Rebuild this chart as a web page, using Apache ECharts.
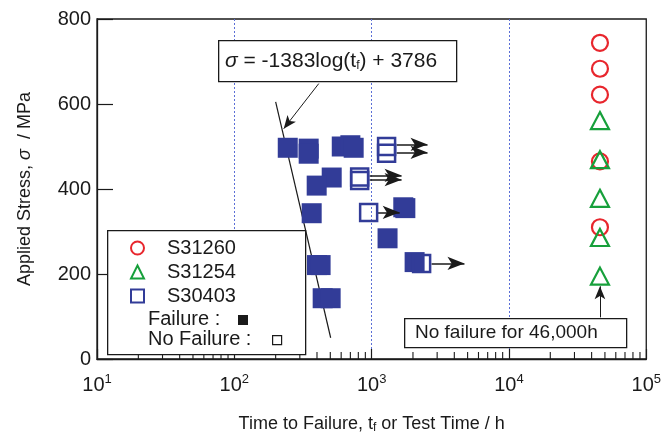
<!DOCTYPE html>
<html>
<head>
<meta charset="utf-8">
<script src="https://cdn.jsdelivr.net/npm/echarts@6/dist/echarts.min.js"></script>
<style>
html,body{margin:0;padding:0;background:#fff;}
#c{width:664px;height:439px;}
</style>
</head>
<body>
<div id="c"></div>
<script>
// ---- data ----
const xTicks = [10, 100, 1000, 10000, 100000];
const yTicks = [0, 200, 400, 600, 800];
const minorTickValues = [20,30,40,50,60,70,80,90,200,300,400,500,600,700,800,900,2000,3000,4000,5000,6000,7000,8000,9000,20000,30000,40000,50000,60000,70000,80000,90000];

const s31260Time = [46000, 46000, 46000, 46000, 46000];
const s31260Stress = [744, 683, 622, 465, 310];

const s31254Time = [46000, 46000, 46000, 46000, 46000];
const s31254Stress = [561, 469, 378, 286, 195];

const failTime = [245, 348, 348, 606, 700, 740, 512, 398, 366, 1700, 1760, 1306, 400, 425, 440, 503, 2056];
const failStress = [497, 495, 483, 500, 503, 497, 427, 408, 343, 357, 355, 284, 221, 221, 143, 143, 228];

const noFailTime = [1285, 1285, 818, 818, 951, 2312];
const noFailStress = [500, 484, 428, 420, 345, 225];

const arrowStartTime = [1520, 1520, 966, 966, 1107, 2731];
const arrowEndTime = [2553, 2553, 1652, 1652, 1600, 4742];
const arrowStress = [505, 486, 432, 422, 345, 225];

const fitTime = [200, 503];
const fitStress = [605, 50];

const leaderFrom = [412, 648];
const leaderTo = [229, 542];
const upArrowFrom = [46000, 98];
const upArrowTo = [46000, 171];

const eqText = '{i|σ} = -1383log(t{s|f}) + 3786';
const noteText = 'No failure for 46,000h';
// --------------------------------------

const zip = (a, b) => a.map((v, i) => [v, b[i]]);
const RED = '#e8262d', GREEN = '#17a03b', BLUE = '#323c98', INK = '#1a1a1a';
const FONT = 'Liberation Sans, Arial, Helvetica, sans-serif';

const arrowLines = arrowStress.map((y, i) => [
  {coord: [arrowStartTime[i], y]},
  {coord: [arrowEndTime[i], y]}
]);

const chart = echarts.init(document.getElementById('c'), null, {renderer: 'canvas'});
chart.setOption({
  animation: false,
  textStyle: {fontFamily: FONT},
  grid: {left: 97, right: 17, top: 19, bottom: 79, show: true, borderColor: INK, borderWidth: 1.3, backgroundColor: 'transparent'},
  xAxis: {
    type: 'log', logBase: 10, min: xTicks[0], max: xTicks[xTicks.length - 1],
    axisLine: {show: true, lineStyle: {color: INK, width: 1.3}},
    axisTick: {show: true, inside: true, length: 10, lineStyle: {color: INK, width: 1.2}},
    splitLine: {show: true, showMinLine: false, showMaxLine: false, lineStyle: {color: '#5b6fd6', width: 1, type: [2, 2]}},
    axisLabel: {
      color: INK, fontSize: 20, fontFamily: FONT, margin: 14, lineHeight: 24,
      formatter: v => '10{s|' + Math.round(Math.log10(v)) + '}',
      rich: {s: {fontSize: 13, lineHeight: 13, verticalAlign: 'top', fontFamily: FONT, color: INK}}
    },
    name: 'Time to Failure, t{s|f} or Test Time / h',
    nameLocation: 'middle', nameGap: 55,
    nameTextStyle: {color: INK, fontSize: 18, fontFamily: FONT, lineHeight: 20,
      rich: {s: {fontSize: 12, fontFamily: FONT, color: INK, lineHeight: 12, verticalAlign: 'bottom', padding: [10, 0, 0, 0]}}}
  },
  yAxis: {
    type: 'value', min: yTicks[0], max: yTicks[yTicks.length - 1], interval: 200,
    axisLine: {show: true, lineStyle: {color: INK, width: 1.3}},
    axisTick: {show: true, inside: true, length: 16, lineStyle: {color: INK, width: 1.2}},
    splitLine: {show: false},
    axisLabel: {color: INK, fontSize: 20, fontFamily: FONT, margin: 6},
    name: 'Applied Stress, {i|σ}  / MPa',
    nameLocation: 'middle', nameGap: 63,
    nameTextStyle: {color: INK, fontSize: 18, fontFamily: FONT,
      rich: {i: {fontStyle: 'italic', fontSize: 18, fontFamily: FONT, color: INK}}}
  },
  legend: {
    orient: 'vertical', left: 125, top: 233, itemGap: 4, z: 20,
    itemWidth: 13, itemHeight: 13,
    textStyle: {color: INK, fontSize: 20, fontFamily: FONT, lineHeight: 20, padding: [0, 0, 0, 18]},
    data: [
      {name: 'S31260', icon: 'emptyCircle', itemStyle: {color: RED, borderColor: RED, borderWidth: 2, opacity: 1}},
      {name: 'S31254', icon: 'emptyTriangle', itemStyle: {color: GREEN, borderColor: GREEN, borderWidth: 2, opacity: 1}},
      {name: 'S30403', icon: 'emptyRect', itemStyle: {color: BLUE, borderColor: BLUE, borderWidth: 2, opacity: 1}}
    ]
  },
  graphic: [
    {type: 'rect', left: 107, top: 230, z: 15, shape: {width: 198, height: 124},
     style: {fill: '#fff', stroke: INK, lineWidth: 1.3}},
    {type: 'text', left: 148, top: 309, z: 21,
     style: {text: 'Failure :', fill: INK, font: '20px ' + FONT}},
    {type: 'rect', left: 238, top: 315, z: 21, shape: {width: 10, height: 10}, style: {fill: INK}},
    {type: 'text', left: 148, top: 329, z: 21,
     style: {text: 'No Failure :', fill: INK, font: '20px ' + FONT}},
    {type: 'rect', left: 272, top: 335, z: 21, shape: {width: 9, height: 9}, style: {fill: '#fff', stroke: INK, lineWidth: 1.2}},
    {type: 'rect', left: 218, top: 40, z: 15, shape: {width: 238, height: 41},
     style: {fill: '#fff', stroke: INK, lineWidth: 1.3}},
    {type: 'text', left: 225, top: 48, z: 21,
     style: {text: eqText, fill: INK, font: '21px ' + FONT,
       rich: {i: {fontStyle: 'italic', fontSize: 21, fontFamily: FONT, fill: INK},
              s: {fontSize: 12, fontFamily: FONT, fill: INK, verticalAlign: 'bottom', padding: [12, 0, 0, 0], lineHeight: 12}}}},
    {type: 'rect', left: 404, top: 318, z: 15, shape: {width: 222, height: 29},
     style: {fill: '#fff', stroke: INK, lineWidth: 1.3}},
    {type: 'text', left: 415, top: 323, z: 21,
     style: {text: noteText, fill: INK, font: '19px ' + FONT}}
  ],
  series: [
    {
      name: 'minor', type: 'custom', silent: true, z: 3,
      data: minorTickValues.map(v => [v, 0]),
      renderItem: (params, api) => {
        const p = api.coord([api.value(0), 0]);
        return {type: 'line', shape: {x1: p[0], y1: p[1], x2: p[0], y2: p[1] - 7},
                style: {stroke: INK, lineWidth: 1.1}};
      }
    },
    {
      name: 'fit', type: 'line', data: zip(fitTime, fitStress), showSymbol: false, silent: true,
      lineStyle: {color: INK, width: 1.2}, z: 3,
      markLine: {
        silent: true, symbol: ['none', 'arrow'], symbolSize: [8, 13], label: {show: false},
        lineStyle: {color: INK, width: 1, type: 'solid'},
        data: [
          [{coord: leaderFrom}, {coord: leaderTo}],
          [{coord: upArrowFrom}, {coord: upArrowTo}]
        ]
      }
    },
    {
      name: 'S31260', type: 'scatter', data: zip(s31260Time, s31260Stress),
      symbol: 'circle', symbolSize: 16, z: 5,
      itemStyle: {color: 'transparent', borderColor: RED, borderWidth: 2.2, opacity: 1}
    },
    {
      name: 'S31254', type: 'scatter', data: zip(s31254Time, s31254Stress),
      symbol: 'triangle', symbolSize: [18, 17], z: 6,
      itemStyle: {color: 'transparent', borderColor: GREEN, borderWidth: 2.2, opacity: 1}
    },
    {
      name: 'S30403', type: 'scatter', data: zip(failTime, failStress),
      symbol: 'rect', symbolSize: 20, z: 4,
      itemStyle: {color: BLUE, borderWidth: 0, opacity: 1}
    },
    {
      name: 'S30403', type: 'scatter', data: zip(noFailTime, noFailStress),
      symbol: 'rect', symbolSize: 17, z: 5,
      itemStyle: {color: 'transparent', borderColor: BLUE, borderWidth: 2.5, opacity: 1},
      markLine: {
        silent: true, symbol: ['none', 'arrow'], symbolSize: [10, 17], label: {show: false},
        lineStyle: {color: INK, width: 1.5, type: 'solid'},
        data: arrowLines
      }
    }
  ]
});
</script>
</body>
</html>
